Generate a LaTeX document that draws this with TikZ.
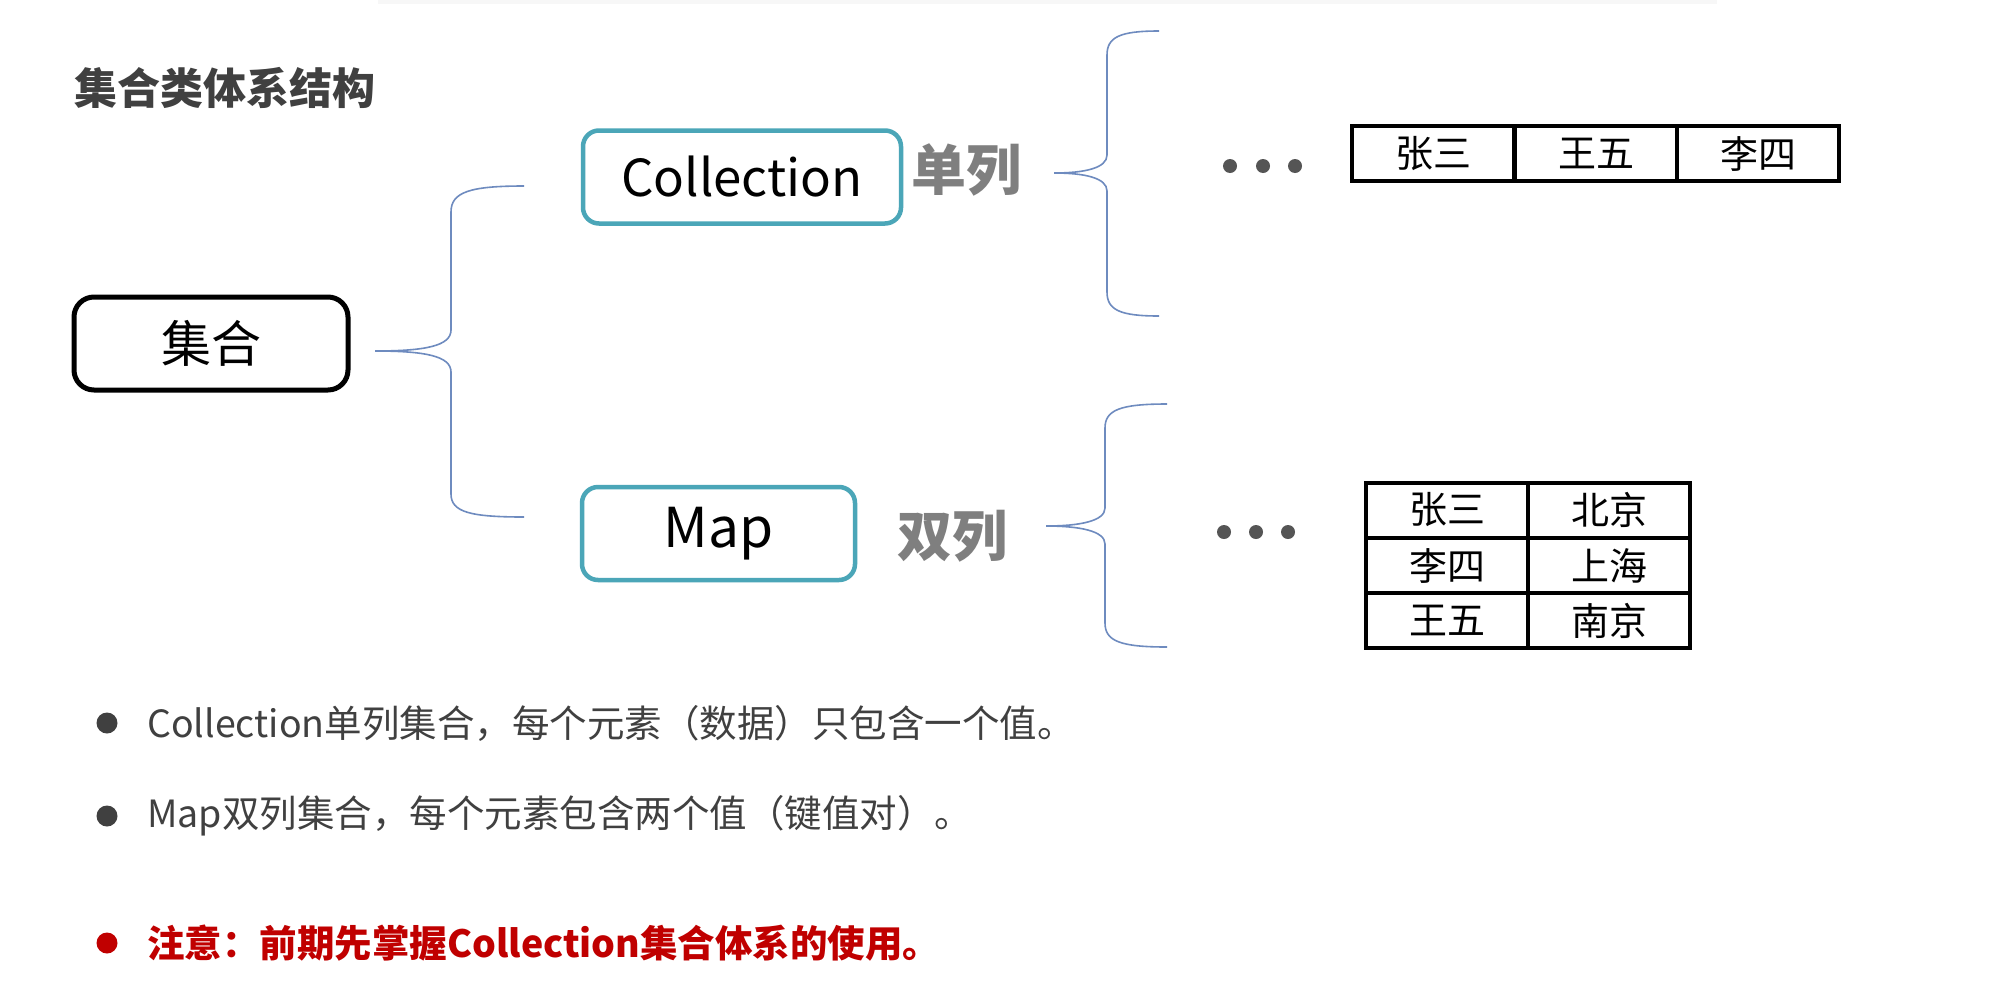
\documentclass[tikz,border=0pt]{standalone}
\usepackage{fontspec}
\setmainfont{Noto Sans CJK SC}
\definecolor{teal1}{HTML}{4BA6B8}
\definecolor{txtgray}{HTML}{404040}
\definecolor{lblgray}{HTML}{7F7F7F}
\definecolor{bracec}{HTML}{6E8BBF}
\definecolor{redc}{HTML}{C00000}
\definecolor{dotc}{HTML}{555555}
\begin{document}
\begin{tikzpicture}[x=1pt,y=-1pt,
  rootbox/.style={draw=black,line width=5pt,rounded corners=20pt,minimum width=274pt,minimum height=93pt,inner sep=0pt,font=\fontsize{50}{56}\selectfont},
  kindbox/.style={draw=teal1,line width=4.5pt,rounded corners=16pt,minimum height=93pt,inner sep=0pt,font=\fontsize{55}{60}\selectfont},
  kindlbl/.style={text=lblgray,font=\fontsize{55}{60}\selectfont\bfseries,inner sep=0pt},
  brace/.style={draw=bracec,line width=1.6pt},
  cell/.style={draw=black,line width=4pt,minimum width=162pt,minimum height=55pt,inner sep=0pt,font=\fontsize{38}{42}\selectfont},
  dotn/.style={circle,fill=dotc,minimum size=14pt,inner sep=0pt},
  bullet/.style={circle,fill=#1,minimum size=21pt,inner sep=0pt},
  bultext/.style={anchor=west,inner sep=0pt,font=\fontsize{37.5}{42}\selectfont}
]
\useasboundingbox[fill=white] (0,0) rectangle (2009,1002);
\fill[gray!6] (378,0) rectangle (1717,4);

% title
\node[anchor=west,inner sep=0pt,text=txtgray,font=\fontsize{43}{48}\selectfont\bfseries] (title) at (74,88) {集合类体系结构};

% boxes
\node[rootbox] (root) at (211,343.5) {集合};
\node[kindbox,minimum width=318pt,font=\fontsize{51}{56}\selectfont] (coll) at (742,177) {Collection};
\node[kindbox,minimum width=273pt] (map) at (718.5,533.5) {Map};
\node[kindlbl,anchor=west] (single) at (911,170) {单列};
\node[kindlbl,anchor=west] (double) at (897,536) {双列};

% left brace
\coordinate (lbT) at (524,186);
\coordinate (lbB) at (524,517);
\coordinate (lbTip) at (375,351);
\draw[brace] (lbT) .. controls (470,186) and (451,192) .. (451,212) -- (451,330)
  .. controls (451,346) and (425,351) .. (lbTip)
  .. controls (425,351) and (451,356) .. (451,372) -- (451,494)
  .. controls (451,512) and (470,517) .. (lbB);

% upper right brace
\coordinate (ubT) at (1159,31);
\coordinate (ubB) at (1159,316);
\coordinate (ubTip) at (1054,173);
\draw[brace] (ubT) .. controls (1120,31) and (1107,37) .. (1107,55) -- (1107,155)
  .. controls (1107,168) and (1085,173) .. (ubTip)
  .. controls (1085,173) and (1107,178) .. (1107,191) -- (1107,292)
  .. controls (1107,310) and (1120,316) .. (ubB);

% lower right brace
\coordinate (dbT) at (1167,404);
\coordinate (dbB) at (1167,647);
\coordinate (dbTip) at (1046,526);
\draw[brace] (dbT) .. controls (1120,404) and (1105,410) .. (1105,428) -- (1105,508)
  .. controls (1105,521) and (1080,526) .. (dbTip)
  .. controls (1080,526) and (1105,531) .. (1105,544) -- (1105,623)
  .. controls (1105,641) and (1120,647) .. (dbB);

% dots
\node[dotn] (u1) at (1230,166) {};
\node[dotn] (u2) at (1263,166) {};
\node[dotn] (u3) at (1295,166) {};
\node[dotn] (l1) at (1224,532) {};
\node[dotn] (l2) at (1256,532) {};
\node[dotn] (l3) at (1288,532) {};

% upper table
\node[cell] (t1) at (1433,153.5) {张三};
\node[cell] (t2) at (1596,153.5) {王五};
\node[cell] (t3) at (1758,153.5) {李四};

% lower table
\node[cell] (m11) at (1447,510) {张三};
\node[cell] (m12) at (1609,510) {北京};
\node[cell] (m21) at (1447,565.5) {李四};
\node[cell] (m22) at (1609,565.5) {上海};
\node[cell] (m31) at (1447,620.5) {王五};
\node[cell] (m32) at (1609,620.5) {南京};

% bullets
\node[bullet=txtgray] (b1) at (107,723) {};
\node[bullet=txtgray] (b2) at (107,816) {};
\node[bullet=redc] (b3) at (107,943) {};
\node[bultext,text=txtgray] (s1) at (147,723) {Collection单列集合，每个元素（数据）只包含一个值。};
\node[bultext,text=txtgray] (s2) at (147,816) {Map双列集合，每个元素包含两个值（键值对）。};
\node[bultext,text=redc,font=\fontsize{37.5}{42}\selectfont\bfseries] (s3) at (147,943) {注意：前期先掌握Collection集合体系的使用。};
\end{tikzpicture}
\end{document}
